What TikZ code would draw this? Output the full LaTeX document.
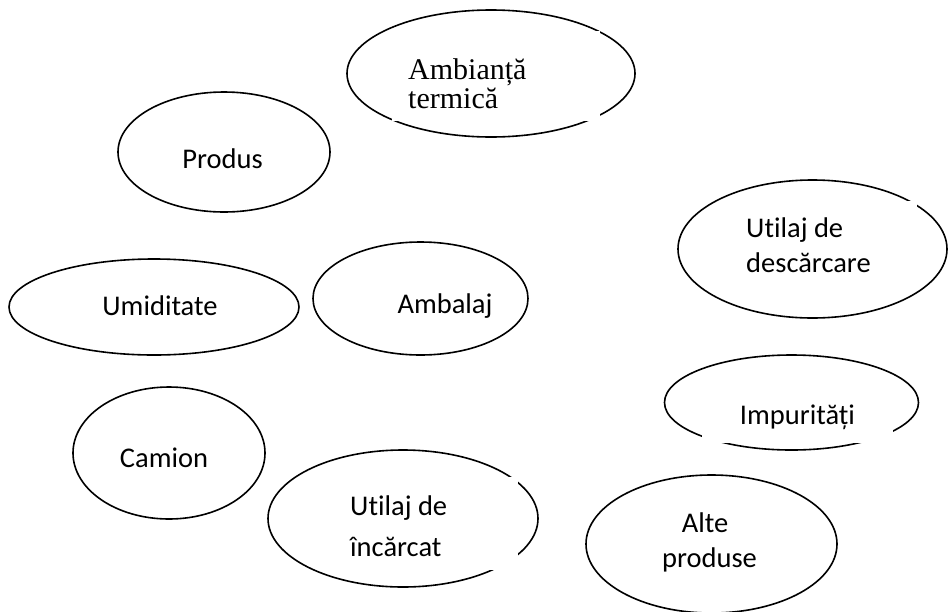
\documentclass[tikz,border=0pt]{standalone}
\usepackage{fontspec}
\setmainfont{Carlito}[Ligatures=NoCommon]
\newfontfamily\serifface{Liberation Serif}[Ligatures=NoCommon]
\usetikzlibrary{shapes.geometric}
\begin{document}
\begin{tikzpicture}[x=1pt,y=-1pt,
  oval/.style={draw=black, line width=1.6pt, ellipse, inner sep=0pt, outer sep=0pt},
  tbox/.style={fill=white},
  lbl/.style={inner sep=0pt, font=\fontsize{28.5}{34}\selectfont},
  slbl/.style={inner sep=0pt, font=\serifface\fontsize{30}{34}\selectfont}]
\useasboundingbox (0,0) rectangle (948,611);

% ovals
\node[oval, minimum width=288pt, minimum height=127pt] (amb)  at (491,73.5)  {};
\node[oval, minimum width=212pt, minimum height=120pt] (prod) at (224,152)   {};
\node[oval, minimum width=290pt, minimum height=96pt]  (umid) at (154,307)   {};
\node[oval, minimum width=215pt, minimum height=113pt] (ambl) at (420.5,298.5) {};
\node[oval, minimum width=269pt, minimum height=138pt] (desc) at (812.5,249) {};
\node[oval, minimum width=254pt, minimum height=95pt]  (imp)  at (791.5,402.5) {};
\node[oval, minimum width=192pt, minimum height=132pt] (cam)  at (169,453)   {};
\node[oval, minimum width=270pt, minimum height=137pt] (inc)  at (403,518.5) {};
\node[oval, minimum width=251pt, minimum height=138pt] (alte) at (711.5,544) {};

% white text frames laid over some of the ovals
\path[tbox] (392,30.5) rectangle (600,121);
\path[tbox] (735,201) rectangle (917,290);
\path[tbox] (702,378) rectangle (893,443);
\path[tbox] (340,477) rectangle (518,570);

% labels
\node[slbl, anchor=base west] (amb-a) at (408,79)  {Ambianță};
\node[slbl, anchor=base west] (amb-b) at (408,108) {termică};
\node[lbl, anchor=base] (prod-t) at (222.5,168) {Produs};
\node[lbl, anchor=base] (umid-t) at (160,315)   {Umiditate};
\node[lbl, anchor=base] (ambl-t) at (445,313)   {Ambalaj};
\node[lbl, anchor=base] (cam-t)  at (164,467)   {Camion};
\node[lbl, anchor=base west] (desc-a) at (746,237) {Utilaj de};
\node[lbl, anchor=base west] (desc-b) at (746,272) {descărcare};
\node[lbl, anchor=base] (imp-t)  at (797.5,424) {Impurități};
\node[lbl, anchor=base west] (inc-a) at (350,515) {Utilaj de};
\node[lbl, anchor=base west] (inc-b) at (350,556) {încărcat};
\node[lbl, anchor=base] (alte-a) at (705,532)   {Alte};
\node[lbl, anchor=base] (alte-b) at (709.5,567) {produse};
\end{tikzpicture}
\end{document}
